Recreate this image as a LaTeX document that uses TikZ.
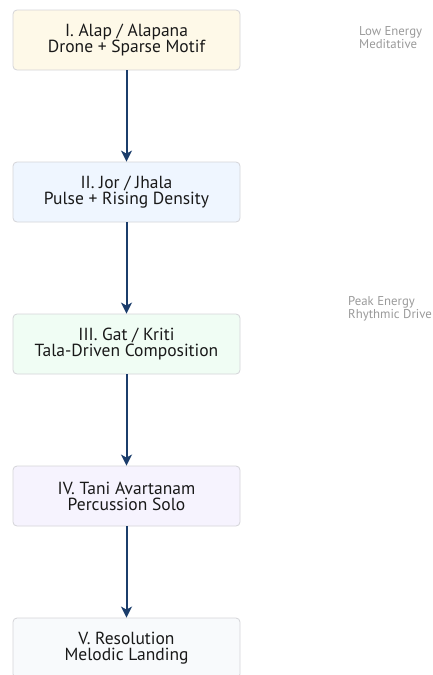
\documentclass[tikz,border=0pt]{standalone}
\usepackage{fontspec}
\setmainfont{PT Sans}
\usetikzlibrary{arrows.meta}
\definecolor{edgegray}{HTML}{D4D4D8}
\definecolor{flowblue}{HTML}{1B3D6B}
\definecolor{notegray}{HTML}{9A9A9A}
\definecolor{fillA}{HTML}{FEF9E8}
\definecolor{fillB}{HTML}{EFF6FF}
\definecolor{fillC}{HTML}{F0FDF4}
\definecolor{fillD}{HTML}{F6F3FE}
\definecolor{fillE}{HTML}{F8FAFC}
\tikzset{
  x=1pt, y=1pt,
  stage/.style={draw=edgegray, line width=0.8pt, rounded corners=4pt,
    minimum width=227pt, minimum height=60pt, align=center,
    font=\fontsize{17.5}{16}\selectfont, text=black!90, inner sep=0pt},
  flow/.style={draw=flowblue, line width=2pt,
    -{Stealth[length=11pt,width=11pt,inset=3pt]}},
  note/.style={font=\fontsize{12.8}{13.5}\selectfont, text=notegray, align=left,
    anchor=north west, inner sep=0pt}
}
\begin{document}
\begin{tikzpicture}
\useasboundingbox (0,0) rectangle (433,-675);
\node[stage, fill=fillA] (s1) at (126.5,-40)  {I. Alap / Alapana\\Drone + Sparse Motif};
\node[stage, fill=fillB] (s2) at (126.5,-192) {II. Jor / Jhala\\Pulse + Rising Density};
\node[stage, fill=fillC] (s3) at (126.5,-344) {III. Gat / Kriti\\Tala-Driven Composition};
\node[stage, fill=fillD] (s4) at (126.5,-496) {IV. Tani Avartanam\\Percussion Solo};
\node[stage, fill=fillE] (s5) at (126.5,-648) {V. Resolution\\Melodic Landing};
\draw[flow] (s1) -- (s2);
\draw[flow] (s2) -- (s3);
\draw[flow] (s3) -- (s4);
\draw[flow] (s4) -- (s5);
\node[note] (n1) at (359,-26)  {Low Energy\\Meditative};
\node[note] (n2) at (348,-296) {Peak Energy\\Rhythmic Drive};
\end{tikzpicture}
\end{document}
